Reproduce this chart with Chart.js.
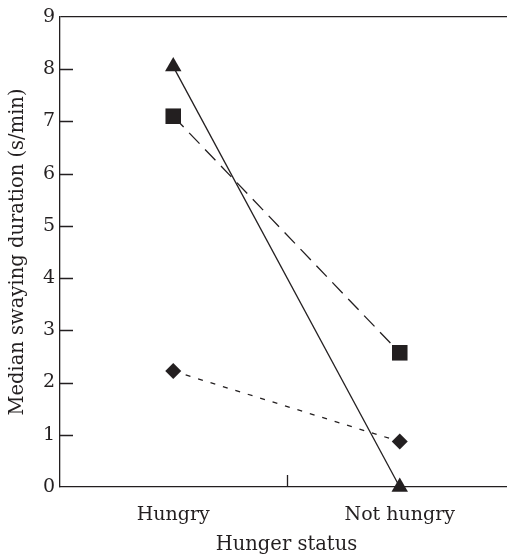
<!DOCTYPE html>
<html>
<head>
<meta charset="utf-8">
<script src="https://cdn.jsdelivr.net/npm/chart.js@4.4.1/dist/chart.umd.min.js"></script>
<style>
  html, body { margin: 0; padding: 0; background: #fff; overflow: hidden; }
  #wrap { width: 524px; height: 554px; }
</style>
</head>
<body>
<div id="wrap"><canvas id="chart" width="524" height="554"></canvas></div>
<script>
// data
const categories = ["Hungry", "Not hungry"];
const triangleValues = [8.05, 0.0];  // solid line
const squareValues = [7.1, 2.57];    // long dashes
const diamondValues = [2.22, 0.87];  // short dashes
const yTickValues = [0, 1, 2, 3, 4, 5, 6, 7, 8, 9];

const ink = "#231f20";
const fontFamily = "'DejaVu Serif', serif";

// ticks drawn inward, as in the original figure
const inwardTicks = {
  id: "inwardTicks",
  afterDraw(chart) {
    const ctx = chart.ctx;
    const x = chart.scales.x;
    const y = chart.scales.y;
    ctx.save();
    ctx.strokeStyle = ink;
    ctx.lineWidth = 1.3;
    ctx.beginPath();
    yTickValues.forEach((v) => {
      if (v === 0 || v === yTickValues[yTickValues.length - 1]) return;
      const py = Math.round(y.getPixelForValue(v)) + 0.5;
      ctx.moveTo(x.left, py);
      ctx.lineTo(x.left + 13, py);
    });
    // tick between the two categories
    const mid = Math.round((x.getPixelForValue(0) + x.getPixelForValue(1)) / 2) + 0.5;
    ctx.moveTo(mid, y.bottom);
    ctx.lineTo(mid, y.bottom - 12);
    ctx.stroke();
    ctx.restore();
  },
};

new Chart(document.getElementById("chart"), {
  type: "line",
  data: {
    labels: categories,
    datasets: [
      {
        label: "triangle",
        data: triangleValues,
        borderColor: ink,
        borderWidth: 1.3,
        pointStyle: "triangle",
        pointRadius: 9.5,
        pointBackgroundColor: ink,
        pointBorderColor: ink,
        pointBorderWidth: 0,
        clip: false,
      },
      {
        label: "square",
        data: squareValues,
        borderColor: ink,
        borderWidth: 1.3,
        borderDash: [15, 8],
        pointStyle: "rect",
        pointRadius: 11,
        pointBackgroundColor: ink,
        pointBorderColor: ink,
        pointBorderWidth: 0,
        clip: false,
      },
      {
        label: "diamond",
        data: diamondValues,
        borderColor: ink,
        borderWidth: 1.3,
        borderDash: [5, 8],
        pointStyle: "rectRot",
        pointRadius: 8,
        pointBackgroundColor: ink,
        pointBorderColor: ink,
        pointBorderWidth: 0,
        clip: false,
      },
    ],
  },
  options: {
    responsive: false,
    animation: false,
    layout: { padding: { top: 17, right: 0, left: 0, bottom: 0 } },
    plugins: {
      legend: { display: false },
      tooltip: { enabled: false },
    },
    scales: {
      x: {
        type: "category",
        offset: true,
        grid: { display: false },
        border: { display: true, color: ink, width: 1.3 },
        ticks: {
          color: ink,
          padding: 9,
          font: { family: fontFamily, size: 19 },
          maxRotation: 0,
        },
        title: {
          display: true,
          text: "Hunger status",
          color: ink,
          font: { family: fontFamily, size: 19.5 },
          padding: { top: 6, bottom: -3 },
        },
        afterFit: (scale) => { scale.height = 67; },
      },
      y: {
        min: 0,
        max: 9,
        afterBuildTicks: (scale) => {
          scale.ticks = yTickValues.map((v) => ({ value: v }));
        },
        grid: {
          drawTicks: false,
          color: (c) => (c.tick && c.tick.value === 9 ? ink : "transparent"),
          lineWidth: 1.3,
        },
        border: { display: true, color: ink, width: 1.3 },
        ticks: {
          color: ink,
          padding: 5,
          font: { family: fontFamily, size: 19 },
        },
        title: {
          display: true,
          text: "Median swaying duration (s/min)",
          color: ink,
          font: { family: fontFamily, size: 19.5 },
          padding: { top: 6, bottom: 4 },
        },
        afterFit: (scale) => { scale.width = 60; },
      },
    },
  },
  plugins: [inwardTicks],
});
</script>
</body>
</html>
